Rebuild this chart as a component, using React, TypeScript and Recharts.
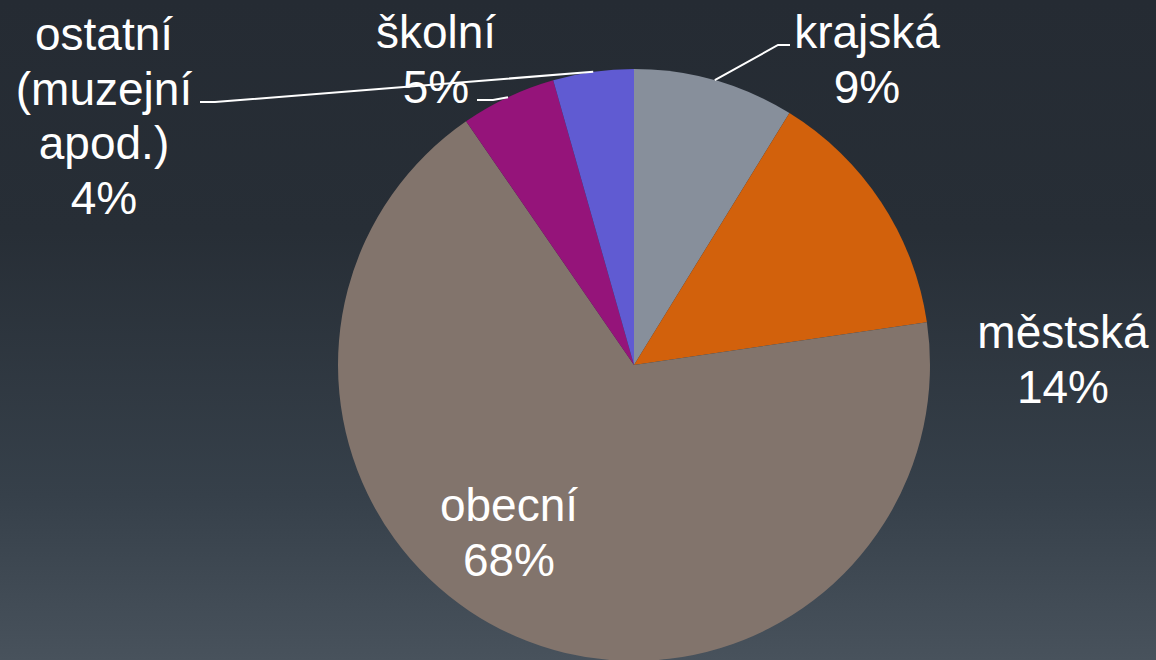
import React from "react";
import { PieChart, Pie, Cell } from "recharts";

const categories = ["krajská", "městská", "obecní", "školní", "ostatní\n(muzejní\napod.)"];
const values = [8.8, 13.9, 67.7, 5.2, 4.4];
const colors = ["#878f9b", "#d2610c", "#82746c", "#95147a", "#605bd2"];

// label layout: text centre x and first baseline relative to pie centre; optional leader elbow/end relative to pie centre
const labelLayout = [
  { dx: 233, dy: -317, elbow: [144, -320], end: [156, -320] },
  { dx: 429, dy: -17 },
  { dx: -125, dy: 156 },
  { dx: -198, dy: -317, elbow: [-141, -265], end: [-157, -265] },
  { dx: -530, dy: -315, elbow: [-419, -263], end: [-434, -263] },
];

const data = categories.map((name, i) => ({ name, value: values[i] }));

const RAD = Math.PI / 180;
const FONT = "'Liberation Sans', Arial, sans-serif";

const renderLabel = (props: any) => {
  const { cx, cy, midAngle, outerRadius, index, percent } = props;
  const lay = labelLayout[index];
  const lines = String(categories[index]).split("\n");
  lines.push(`${Math.round(percent * 100)}%`);
  const tx = cx + lay.dx;
  const ty = cy + lay.dy;
  let leader = null;
  if (lay.elbow) {
    const sx = cx + outerRadius * Math.cos(-midAngle * RAD);
    const sy = cy + outerRadius * Math.sin(-midAngle * RAD);
    const pts = `${sx},${sy} ${cx + lay.elbow[0]},${cy + lay.elbow[1]} ${cx + lay.end[0]},${cy + lay.end[1]}`;
    leader = <polyline points={pts} fill="none" stroke="#ffffff" strokeWidth={2} />;
  }
  return (
    <g key={`lbl-${index}`}>
      {leader}
      <text
        x={tx}
        y={ty}
        fill="#ffffff"
        textAnchor="middle"
        fontFamily={FONT}
        fontSize={46}
      >
        {lines.map((l, k) => (
          <tspan key={k} x={tx} y={ty + k * 54.5}>
            {l}
          </tspan>
        ))}
      </text>
    </g>
  );
};

export default function App() {
  return (
    <div
      style={{
        position: "fixed",
        left: 0,
        top: 0,
        width: 1156,
        height: 660,
        overflow: "hidden",
        background:
          "linear-gradient(180deg, #252b33 0%, #272e36 35%, #36404a 75%, #48525c 100%)",
      }}
    >
      <PieChart width={1156} height={660} margin={{ top: 0, right: 0, bottom: 0, left: 0 }}>
        <Pie
          data={data}
          dataKey="value"
          nameKey="name"
          cx={634}
          cy={365}
          outerRadius={296}
          startAngle={90}
          endAngle={-270}
          stroke="none"
          label={renderLabel}
          labelLine={false}
          isAnimationActive={false}
        >
          {data.map((d, i) => (
            <Cell key={d.name} fill={colors[i]} />
          ))}
        </Pie>
      </PieChart>
    </div>
  );
}
